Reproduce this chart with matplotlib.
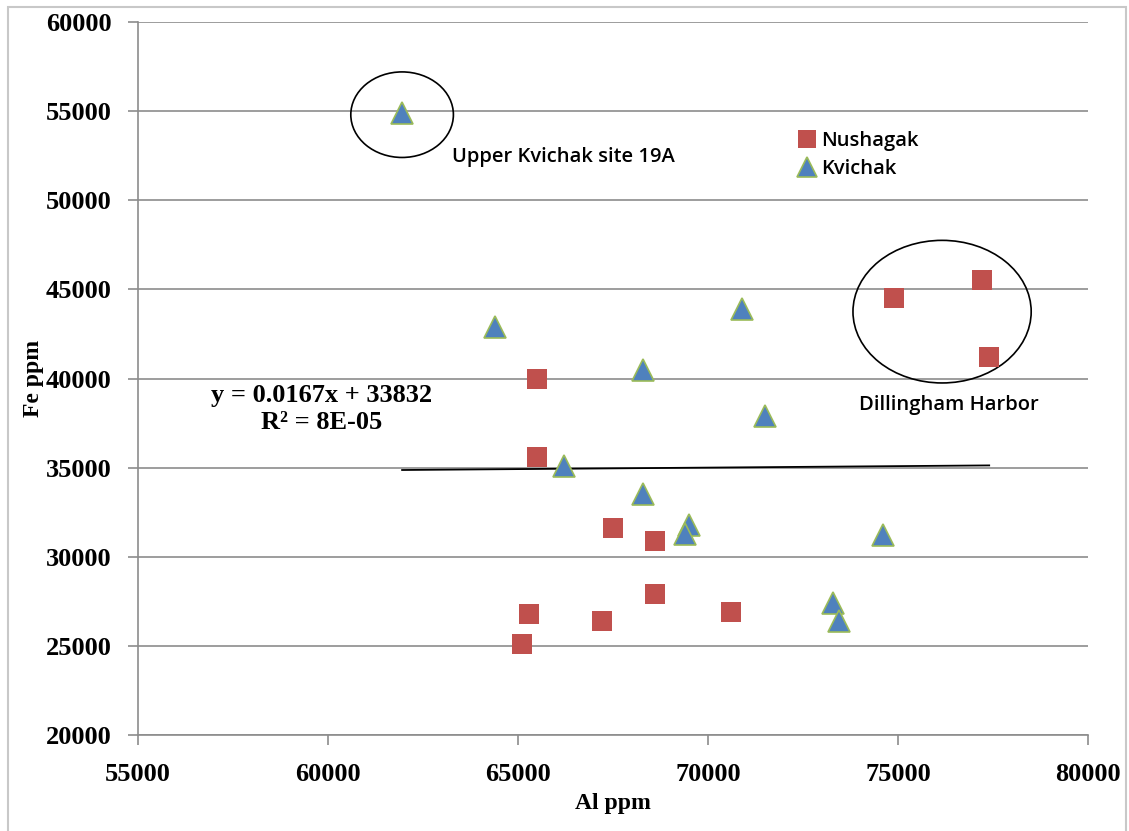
import matplotlib.pyplot as plt
from matplotlib.patches import Ellipse, Rectangle

# Nushagak samples (Al ppm, Fe ppm)
nush_al = [65500, 65500, 67500, 68600, 65300, 67200, 68600, 70600, 65100, 74900, 77200, 77400]
nush_fe = [40000, 35600, 31600, 30900, 26800, 26400, 27900, 26900, 25100, 44500, 45500, 41200]

# Kvichak samples
kvi_al = [61950, 64400, 70900, 68300, 71500, 66200, 68300, 69500, 69400, 74600, 73300, 73450]
kvi_fe = [54900, 42900, 43900, 40500, 37900, 35100, 33500, 31800, 31300, 31200, 27400, 26400]

# linear trend shown on the chart
slope = 0.0167
intercept = 33832
trend_x = [min(nush_al + kvi_al), max(nush_al + kvi_al)]
trend_y = [slope * v + intercept for v in trend_x]

x_ticks = [55000, 60000, 65000, 70000, 75000, 80000]
y_ticks = [20000, 25000, 30000, 35000, 40000, 45000, 50000, 55000, 60000]

serif = 'Liberation Serif'
sans = 'Open Sans'

fig = plt.figure(figsize=(11.29, 8.31), dpi=100)
ax = fig.add_axes([138/1129, 1-735/831, (1088-138)/1129, (735-22)/831])

# outer chart border
fig.patches.append(Rectangle((8/1129, -0.01), (1126-8)/1129, 1.01 - 7/831,
                             transform=fig.transFigure, fill=False,
                             edgecolor='#c8c8c8', linewidth=1.5))

ax.set_xlim(55000, 80000)
ax.set_ylim(20000, 60000)
ax.set_xticks(x_ticks)
ax.set_yticks(y_ticks)
ax.grid(axis='y', color='#8c8c8c', linewidth=1.2)
ax.set_axisbelow(True)
for s in ['top', 'right']:
    ax.spines[s].set_visible(False)
for s in ['left', 'bottom']:
    ax.spines[s].set_color('#8c8c8c')
    ax.spines[s].set_linewidth(1.2)
ax.tick_params(direction='out', length=7, width=1.2, color='#8c8c8c')
ax.tick_params(axis='y', pad=12)
ax.tick_params(axis='x', pad=13)
for lab in ax.get_xticklabels() + ax.get_yticklabels():
    lab.set_fontfamily(serif)
    lab.set_fontweight('bold')
    lab.set_fontsize(19)

ax.plot(trend_x, trend_y, color='black', linewidth=1.3, zorder=2)

ax.plot(nush_al, nush_fe, 's', color='#c0504d', markersize=14.5,
        markeredgewidth=0, linestyle='none', label='Nushagak', zorder=3)
ax.plot(kvi_al, kvi_fe, '^', color='#4f81bd', markersize=16.5,
        markeredgecolor='#9bbb59', markeredgewidth=1.2, linestyle='none',
        label='Kvichak', zorder=3)

ax.add_patch(Ellipse((61950, 54800), 2700, 4800, fill=False, edgecolor='black', linewidth=1.2))
ax.add_patch(Ellipse((76160, 43750), 4690, 8000, fill=False, edgecolor='black', linewidth=1.2))

ax.text(63260, 52430, 'Upper Kvichak site 19A', fontfamily=sans, fontweight='semibold',
        fontsize=14.5, ha='left', va='center')
ax.text(76340, 38510, 'Dillingham Harbor', fontfamily=sans, fontweight='semibold',
        fontsize=14.5, ha='center', va='center')
ax.text(59820, 38290, 'y = 0.0167x + 33832\nR² = 8E-05', fontfamily=serif,
        fontweight='bold', fontsize=19, ha='center', va='center', linespacing=1.2)

ax.legend(loc='upper left', bbox_to_anchor=(0.683, 0.858), frameon=False,
          prop={'family': sans, 'size': 14.5, 'weight': 'semibold'},
          handletextpad=0.1, labelspacing=0.4, borderaxespad=0,
          handlelength=1.2, markerscale=0.9)

ax.set_xlabel('Al ppm', fontfamily=serif, fontweight='bold', fontsize=17, labelpad=5)
ax.set_ylabel('Fe ppm', fontfamily=serif, fontweight='bold', fontsize=17, labelpad=1)

fig.savefig('out.png', dpi=100)
